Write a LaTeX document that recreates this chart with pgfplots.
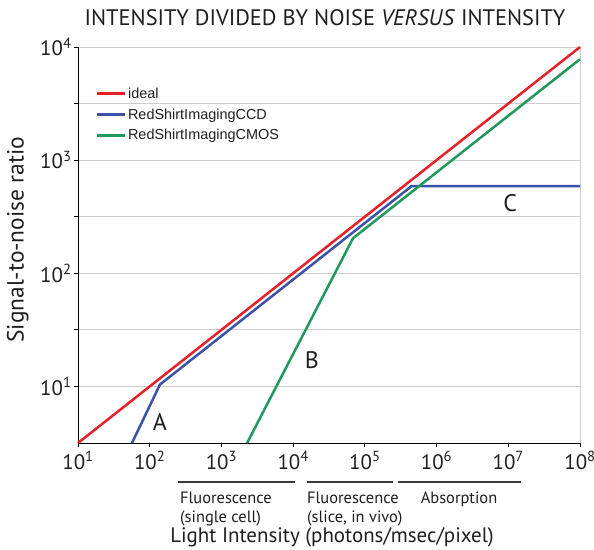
\documentclass[border=0pt]{standalone}
\usepackage{pgfplots}
\pgfplotsset{compat=1.18}
\usepackage{fontspec}
\setmainfont{PT Sans}
\newfontfamily\arial{Liberation Sans}
\definecolor{cred}{RGB}{230,32,40}
\definecolor{cblue}{RGB}{58,82,168}
\definecolor{cgreen}{RGB}{32,152,92}
\definecolor{gridgray}{RGB}{205,205,205}
\definecolor{bargray}{RGB}{60,60,60}
\definecolor{txt}{RGB}{30,30,30}
\newcommand{\tp}[1]{10\textsuperscript{#1}}
\begin{document}
\begin{tikzpicture}[every node/.style={text=txt}]
\begin{axis}[
  scale only axis, width=502bp, height=396bp,
  xmode=log, ymode=log,
  xmin=10, xmax=1e8, ymin=3.16228, ymax=1e4,
  axis x line*=bottom, axis y line*=left,
  axis line style={-, black, line width=1pt},
  xtick={10,100,1000,1e4,1e5,1e6,1e7,1e8},
  xticklabels={\tp{1},\tp{2},\tp{3},\tp{4},\tp{5},\tp{6},\tp{7},\tp{8}},
  ytick={10,100,1000,10000},
  yticklabels={\tp{1},\tp{2},\tp{3},\tp{4}},
  xminorticks=false,
  minor ytick={31.6228,316.228,3162.28},
  ymajorgrids, yminorgrids,
  major grid style={gridgray, line width=0.8pt},
  minor grid style={gridgray, line width=0.8pt},
  tick style={black, line width=0.8pt},
  tick align=outside,
  major tick length=4bp, minor tick length=4bp,
  ticklabel style={font=\fontsize{21}{21}\selectfont},
  xticklabel style={yshift=-1bp},
  yticklabel style={xshift=1bp},
  clip=false,
  legend style={at={(rel axis cs:0.034,0.903)}, anchor=north west, draw=none, fill=none,
    font=\arial\fontsize{14.5}{14.5}\selectfont, inner sep=0pt, row sep=5bp,
    cells={anchor=west}},
  legend image code/.code={\draw[#1, line width=2.8pt] (0bp,0bp) -- (28bp,0bp);},
]
\draw[gridgray, line width=0.8pt] (rel axis cs:1,0) -- (rel axis cs:1,1);
\addplot[cred, line width=2.5pt] coordinates {(10,3.16228) (1e8,1e4)};
\addlegendentry{ideal}
\addplot[cblue, line width=2.5pt] coordinates {(56.6,3.16228) (139,10.4) (4.5e5,590) (1e8,590)};
\addlegendentry{RedShirtImagingCCD}
\addplot[cgreen, line width=2.5pt] coordinates {(2280,3.16228) (68400,204) (1e8,7800)};
\addlegendentry{RedShirtImagingCMOS}
\node[font=\fontsize{24}{24}\selectfont] at (axis cs:139,4.85) {A};
\node[font=\fontsize{24}{24}\selectfont] at (axis cs:18300,17.1) {B};
\node[font=\fontsize{24}{24}\selectfont] at (axis cs:1.06e7,418) {C};
% title and labels
\node[font=\fontsize{22.5}{22.5}\selectfont] at (rel axis cs:0.492,1.073) {INTENSITY DIVIDED BY NOISE \textit{VERSUS} INTENSITY};
\node[rotate=90, font=\fontsize{23.5}{23.5}\selectfont] at (rel axis cs:-0.12,0.513) {Signal-to-noise ratio};
\node[font=\fontsize{21}{21}\selectfont] at (rel axis cs:0.506,-0.237) {Light Intensity (photons/msec/pixel)};
% range bars
\draw[bargray, line width=1.8pt] (rel axis cs:0.199,-0.0985) -- (rel axis cs:0.432,-0.0985);
\draw[bargray, line width=1.8pt] (rel axis cs:0.456,-0.0985) -- (rel axis cs:0.627,-0.0985);
\draw[bargray, line width=1.8pt] (rel axis cs:0.637,-0.0985) -- (rel axis cs:0.882,-0.0985);
\node[anchor=north west, align=left, inner sep=0pt, font=\fontsize{16.5}{19.5}\selectfont] at (rel axis cs:0.203,-0.123) {Fluorescence\\(single cell)};
\node[anchor=north west, align=left, inner sep=0pt, font=\fontsize{16.5}{19.5}\selectfont] at (rel axis cs:0.456,-0.123) {Fluorescence\\(slice, in vivo)};
\node[anchor=north, inner sep=0pt, font=\fontsize{16.5}{19.5}\selectfont] at (rel axis cs:0.759,-0.123) {Absorption};
\coordinate (sw) at (rel axis cs:0,0);
\coordinate (ne) at (rel axis cs:1,1);
\end{axis}
\pgfresetboundingbox
\path[use as bounding box] ([shift={(-78bp,-107bp)}]sw) rectangle ([shift={(14bp,47bp)}]ne);
\end{tikzpicture}
\end{document}
